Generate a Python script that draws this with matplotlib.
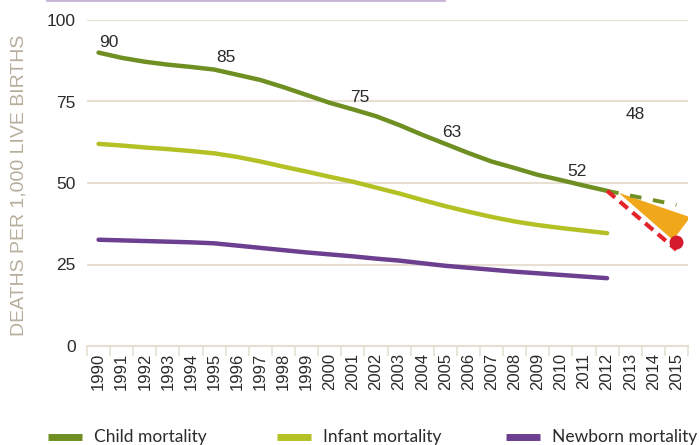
import matplotlib
matplotlib.use('Agg')
import matplotlib.pyplot as plt
from matplotlib.lines import Line2D

# Data
years = list(range(1990, 2013))
child = [90, 88.4, 87.2, 86.3, 85.6, 84.8, 83.2, 81.6, 79.4, 77.0, 74.6, 72.6,
         70.5, 67.8, 64.8, 62.0, 59.2, 56.6, 54.6, 52.5, 50.9, 49.2, 47.6]
infant = [62.0, 61.5, 60.9, 60.4, 59.8, 59.1, 58.0, 56.6, 55.0, 53.5, 51.9, 50.4,
          48.6, 46.8, 44.8, 42.9, 41.2, 39.6, 38.2, 37.1, 36.2, 35.4, 34.6]
newborn = [32.6, 32.4, 32.2, 32.0, 31.8, 31.5, 30.8, 30.1, 29.4, 28.7, 28.1, 27.5,
           26.8, 26.2, 25.4, 24.6, 24.0, 23.4, 22.8, 22.3, 21.8, 21.3, 20.8]
tick_years = list(range(1990, 2016))

# Projections to 2015
proj_years = [2012, 2015]
child_trend = [47.6, 43.3]
mdg_target = [47.6, 29.5]
gap_x = [2012.5, 2015.6, 2014.85]
gap_y = [47.0, 39.5, 32.5]
target_year = [2015]
target_value = [32]

# Value labels
label_x = [1990.45, 1995.5, 2001.3, 2005.3, 2010.7, 2013.2]
label_y = [91.7, 87.0, 74.9, 64.2, 52.1, 69.6]
label_text = ['90', '85', '75', '63', '52', '48']

series_names = ['Child mortality', 'Infant mortality', 'Newborn mortality']

c_child = '#6f8f23'
c_infant = '#b3c125'
c_newborn = '#6c3f91'
c_grid = '#e6dfd2'
c_text = '#2b2b2b'

plt.rcParams['font.family'] = ['Liberation Sans', 'DejaVu Sans']

fig = plt.figure(figsize=(6.99, 4.45), dpi=100)
ax = fig.add_axes([87 / 699, 1 - 346 / 445, 601 / 699, 326 / 445])

ax.plot(years, child, color=c_child, lw=3.2, solid_capstyle='round', zorder=3)
ax.plot(years, infant, color=c_infant, lw=3.2, solid_capstyle='round', zorder=3)
ax.plot(years, newborn, color=c_newborn, lw=3.2, solid_capstyle='round', zorder=3)

ax.fill(gap_x, gap_y, color='#f0a71a', lw=0, zorder=2)
ax.plot(proj_years, child_trend, color=c_child, lw=2.8, dashes=(3, 3), zorder=3)
ax.plot(proj_years, mdg_target, color='#e3242b', lw=3, dashes=(2.5, 1.5), zorder=4)
ax.plot(target_year, target_value, 'o', color='#d41a2c', ms=9, zorder=5)

for x, y, t in zip(label_x, label_y, label_text):
    ax.text(x, y, t, ha='center', va='baseline', fontsize=12.5, color=c_text)

ax.set_xlim(1989.5, 2015.5)
ax.set_ylim(0, 100)
ax.set_yticks([0, 25, 50, 75, 100])
ax.set_xticks(tick_years)
ax.set_xticklabels([str(y) for y in tick_years], rotation=90)
ax.set_xticks([y - 0.5 for y in tick_years] + [2015.5], minor=True)
ax.tick_params(axis='x', which='major', length=0, pad=5, labelsize=12, labelcolor=c_text)
ax.tick_params(axis='x', which='minor', length=7, width=1.2, color=c_grid)
ax.tick_params(axis='y', length=0, pad=8, labelsize=12.5, labelcolor=c_text)

ax.grid(axis='y', color=c_grid, lw=1.5)
ax.set_axisbelow(True)
for s in ['left', 'right', 'top']:
    ax.spines[s].set_visible(False)
ax.spines['bottom'].set_color(c_grid)
ax.spines['bottom'].set_linewidth(1.5)

fig.text(19 / 699, 1 - 185 / 445, 'DEATHS PER 1,000 LIVE BIRTHS', rotation=90,
         ha='center', va='center', fontsize=14, color='#b8ae9d')

# Decorative purple rule at the top
fig.add_artist(Line2D([47 / 699, 444 / 699], [0.999, 0.999], color='#c9b4d8', lw=2,
                      transform=fig.transFigure))

# Legend placed by hand along the bottom
legend_y = 1 - 437 / 445
for x0, c, name in zip([48, 277, 506], [c_child, c_infant, c_newborn], series_names):
    fig.add_artist(Line2D([x0 / 699, (x0 + 34) / 699], [legend_y, legend_y], color=c,
                          lw=5, solid_capstyle='butt', transform=fig.transFigure))
    fig.text((x0 + 46) / 699, legend_y, name, ha='left', va='center',
             fontsize=12.5, color=c_text, family=['Lato', 'DejaVu Sans'])

fig.savefig('out.png', dpi=100)
